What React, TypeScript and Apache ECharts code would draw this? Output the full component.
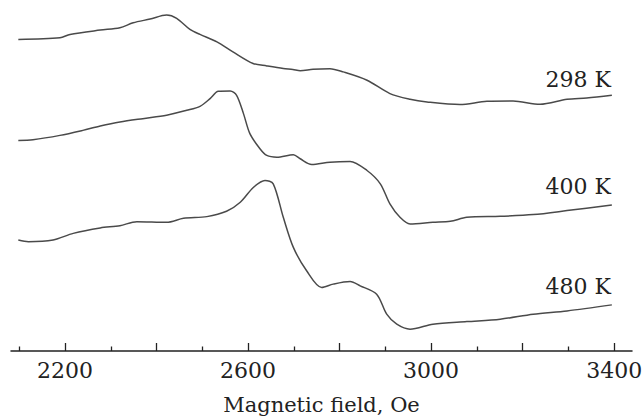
import React, { useEffect, useRef } from "react";
import * as echarts from "echarts";

// Field values (Oe) and signal (arbitrary units, offset per temperature)
const field298 = [2098, 2189, 2211, 2277, 2320, 2349, 2386, 2422, 2444, 2473, 2495, 2532, 2567, 2611, 2641, 2677, 2698, 2714, 2742, 2779, 2808, 2860, 2910, 2954, 2991, 3063, 3122, 3179, 3238, 3297, 3340, 3395];
const signal298 = [315.7, 317.3, 320.7, 325, 327.3, 332.3, 336, 340, 336.7, 325.7, 320.7, 313.3, 303.3, 291.7, 289.3, 286.7, 285.7, 284.5, 286, 286.5, 283.3, 275, 261.7, 256, 253.3, 250.7, 254, 254.3, 251, 256, 257.3, 260];

const field400 = [2098, 2130, 2189, 2239, 2277, 2320, 2370, 2422, 2466, 2495, 2517, 2535, 2561, 2575, 2590, 2604, 2626, 2641, 2663, 2699, 2714, 2739, 2779, 2823, 2860, 2889, 2910, 2932, 2954, 3004, 3042, 3078, 3151, 3223, 3297, 3395];
const signal400 = [215, 215.7, 220, 225, 229.3, 233.3, 236.7, 240, 245, 249, 256.7, 264, 264.3, 260, 241.7, 221.7, 206.7, 200, 198.3, 200.7, 196.7, 191, 193.3, 194, 185, 171.7, 151.7, 138.3, 131.7, 133.3, 134.3, 138.3, 139.3, 141, 145, 150.7];

const field480 = [2098, 2120, 2174, 2218, 2277, 2320, 2357, 2422, 2459, 2510, 2553, 2583, 2612, 2637, 2655, 2677, 2699, 2728, 2761, 2786, 2823, 2845, 2881, 2903, 2925, 2954, 3004, 3078, 3151, 3223, 3297, 3395];
const signal480 = [115.7, 114, 115.7, 122.3, 127.7, 130, 134, 133.3, 137.3, 139, 144.3, 153.3, 168.3, 175, 171.7, 138.3, 108.3, 85, 68.3, 71.7, 74.3, 70, 61.7, 41.7, 31.7, 26.7, 31.7, 34.3, 36.7, 41.7, 45, 51];

const seriesNames = ["298 K", "400 K", "480 K"];
const majorTicks = [2200, 2400, 2600, 2800, 3000, 3200, 3400];
const minorTicks = [2100, 2300, 2500, 2700, 2900, 3100, 3300];
const tickLabels = [2200, 2600, 3000, 3400];

const SERIF = "DejaVu Serif";

function pairs(xs: number[], ys: number[]) {
  return xs.map((x, i) => [x, ys[i]]);
}

export default function App() {
  const ref = useRef<HTMLDivElement>(null);
  useEffect(() => {
    if (!ref.current) return;
    const chart = echarts.init(ref.current, undefined, { renderer: "svg" });
    const lineStyle = { color: "#4a4a4a", width: 1.5 };
    const allData = [
      pairs(field298, signal298),
      pairs(field400, signal400),
      pairs(field480, signal480),
    ];
    const labelY = [81, 188, 288];
    chart.setOption({
      animation: false,
      backgroundColor: "#ffffff",
      textStyle: { fontFamily: SERIF },
      grid: { left: 11, right: 11, top: 0, bottom: 67, outerBoundsMode: "none", containLabel: false },
      xAxis: [
        {
          type: "value",
          min: 2082,
          max: 3439,
          axisLine: { show: true, lineStyle: { color: "#222", width: 1.5 } },
          axisTick: {
            show: true,
            inside: true,
            length: 8,
            customValues: majorTicks,
            lineStyle: { color: "#222", width: 1.3 },
          },
          axisLabel: {
            show: true,
            customValues: tickLabels,
            formatter: (v: number) => String(v),
            margin: 8,
            fontFamily: SERIF,
            fontSize: 22,
            color: "#222",
          },
          splitLine: { show: false },
          name: "Magnetic field, Oe",
          nameLocation: "middle",
          nameGap: 43,
          nameTextStyle: { fontFamily: SERIF, fontSize: 21, color: "#222" },
        },
        {
          type: "value",
          position: "bottom",
          min: 2082,
          max: 3439,
          axisLine: { show: false },
          axisTick: {
            show: true,
            inside: true,
            length: 4.5,
            customValues: minorTicks,
            lineStyle: { color: "#222", width: 1.3 },
          },
          axisLabel: { show: false },
          splitLine: { show: false },
        },
      ],
      yAxis: {
        type: "value",
        min: 5,
        max: 355,
        show: false,
        splitLine: { show: false },
      },
      graphic: seriesNames.map((n, i) => ({
        type: "text",
        right: 32,
        top: labelY[i] - 13,
        style: {
          text: n,
          font: "22px " + SERIF,
          fill: "#222",
        },
      })),
      series: allData.map((d, i) => ({
        name: seriesNames[i],
        type: "line",
        data: d,
        showSymbol: false,
        smooth: 0.3,
        lineStyle,
        xAxisIndex: 0,
      })),
    });
    return () => chart.dispose();
  }, []);
  return <div ref={ref} style={{ width: 643, height: 418, position: "absolute", left: 0, top: 0 }} />;
}
